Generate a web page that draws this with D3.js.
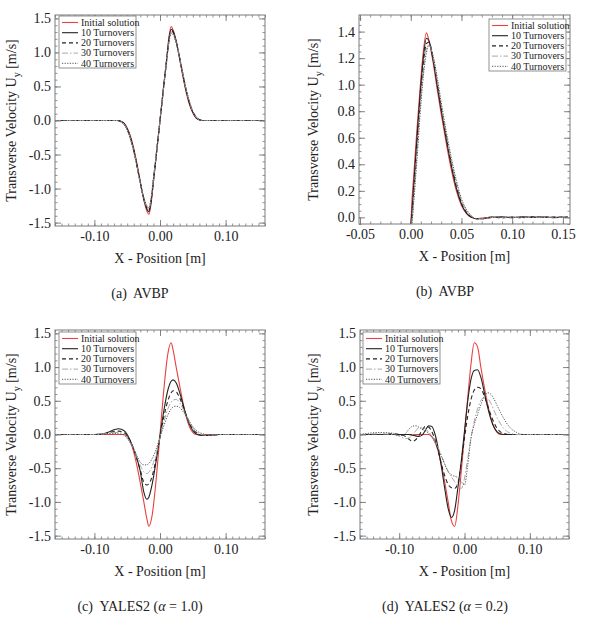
<!DOCTYPE html>
<html>
<head>
<meta charset="utf-8">
<script src="https://cdn.jsdelivr.net/npm/d3@7"></script>
<style>
  body { margin: 0; background: #fff; }
  svg { display: block; }
</style>
</head>
<body>
<div id="chart"></div>
<script>
// legend labels
const seriesNames = ['Initial solution', '10 Turnovers', '20 Turnovers', '30 Turnovers', '40 Turnovers'];

// (a) AVBP
const xA = [-0.16, -0.07, -0.065, -0.06, -0.055, -0.05, -0.045, -0.04, -0.035, -0.03, -0.025, -0.02, -0.017, -0.014, -0.01, -0.005, 0,
  0.005, 0.01, 0.014, 0.017, 0.02, 0.025, 0.03, 0.035, 0.04, 0.045, 0.05, 0.055, 0.06, 0.065, 0.07, 0.16];
const aInit = [0, 0, 0, -0.01, -0.04, -0.11, -0.23, -0.41, -0.64, -0.90, -1.15, -1.33, -1.38, -1.25, -0.90, -0.45, 0,
  0.45, 0.90, 1.25, 1.38, 1.33, 1.15, 0.90, 0.64, 0.41, 0.23, 0.11, 0.04, 0.01, 0, 0, 0];
const a10 = [0, 0, 0, -0.01, -0.04, -0.12, -0.25, -0.43, -0.66, -0.91, -1.14, -1.30, -1.34, -1.22, -0.89, -0.45, 0,
  0.45, 0.88, 1.22, 1.34, 1.31, 1.15, 0.91, 0.66, 0.43, 0.25, 0.12, 0.04, 0.01, 0, 0, 0];
const a20 = [0, 0, 0, -0.01, -0.05, -0.13, -0.26, -0.44, -0.67, -0.92, -1.14, -1.28, -1.32, -1.20, -0.87, -0.44, 0,
  0.44, 0.87, 1.20, 1.32, 1.29, 1.14, 0.92, 0.67, 0.44, 0.26, 0.13, 0.05, 0.01, 0, 0, 0];
const a30 = [0, 0, 0, -0.01, -0.05, -0.13, -0.27, -0.45, -0.68, -0.92, -1.13, -1.27, -1.30, -1.18, -0.86, -0.43, 0,
  0.43, 0.86, 1.18, 1.30, 1.28, 1.13, 0.92, 0.68, 0.45, 0.27, 0.13, 0.05, 0.01, 0, 0, 0];
const a40 = [0, 0, 0, -0.02, -0.06, -0.14, -0.28, -0.46, -0.69, -0.92, -1.12, -1.25, -1.28, -1.16, -0.85, -0.43, 0,
  0.43, 0.85, 1.16, 1.28, 1.26, 1.12, 0.92, 0.69, 0.46, 0.28, 0.14, 0.06, 0.02, 0, 0, 0];

// (b) AVBP, single pulse
const xB = [0, 0.001, 0.003, 0.006, 0.009, 0.012, 0.0155, 0.018, 0.022, 0.026, 0.03, 0.035, 0.04, 0.045, 0.05, 0.055,
  0.06, 0.065, 0.07, 0.08, 0.09, 0.1, 0.11, 0.12, 0.13, 0.14, 0.155];
const bInit = [-0.06, 0.10, 0.32, 0.65, 0.95, 1.22, 1.39, 1.33, 1.17, 0.97, 0.78, 0.56, 0.36, 0.20, 0.09, 0.03,
  0, -0.01, -0.005, 0, 0, 0, 0, 0, 0, 0, 0];
const b10 = [-0.06, 0.02, 0.25, 0.58, 0.90, 1.17, 1.35, 1.33, 1.19, 1.00, 0.81, 0.59, 0.39, 0.22, 0.10, 0.03,
  0, -0.01, -0.01, 0, 0.005, -0.003, 0.004, 0, 0.003, -0.002, 0.003];
const b20 = [-0.06, -0.02, 0.20, 0.52, 0.85, 1.12, 1.31, 1.32, 1.20, 1.02, 0.83, 0.61, 0.41, 0.24, 0.11, 0.04,
  0, -0.01, -0.01, 0.003, -0.004, 0.002, -0.003, 0.004, 0, 0.003, 0];
const b30 = [-0.06, -0.04, 0.15, 0.46, 0.79, 1.06, 1.27, 1.30, 1.21, 1.04, 0.85, 0.63, 0.43, 0.26, 0.13, 0.05,
  0.01, -0.01, -0.01, 0, 0, 0, 0, 0, 0, 0, 0];
const b40 = [-0.06, -0.05, 0.12, 0.42, 0.75, 1.03, 1.24, 1.30, 1.22, 1.06, 0.87, 0.65, 0.45, 0.28, 0.14, 0.06,
  0.01, -0.01, -0.01, 0, 0, 0, 0, 0, 0, 0, 0];

// (c) YALES2 alpha = 1.0
const xC = [-0.16, -0.11, -0.1, -0.09, -0.08, -0.07, -0.063, -0.055, -0.05, -0.045, -0.04, -0.035, -0.03, -0.025, -0.02, -0.017, -0.012, -0.006, 0,
  0.006, 0.012, 0.017, 0.02, 0.025, 0.03, 0.035, 0.04, 0.045, 0.05, 0.055, 0.06, 0.07, 0.08, 0.09, 0.1, 0.11, 0.16];
const cInit = [0, 0, 0, 0, 0, 0, 0, 0, -0.03, -0.11, -0.26, -0.47, -0.72, -0.98, -1.25, -1.36, -1.20, -0.68, 0,
  0.68, 1.20, 1.36, 1.25, 0.98, 0.72, 0.47, 0.26, 0.11, 0.03, 0, 0, 0, 0, 0, 0, 0, 0];
const c10 = [0, 0, 0, 0.005, 0.03, 0.07, 0.085, 0.06, 0, -0.10, -0.22, -0.36, -0.55, -0.84, -0.96, -0.93, -0.74, -0.40, -0.02,
  0.36, 0.66, 0.79, 0.81, 0.76, 0.62, 0.45, 0.28, 0.15, 0.06, 0.01, -0.01, -0.015, -0.01, 0, 0, 0, 0];
const c20 = [0, 0, 0, 0, 0.02, 0.045, 0.05, 0.03, -0.02, -0.10, -0.22, -0.37, -0.53, -0.70, -0.75, -0.73, -0.62, -0.36, -0.03,
  0.27, 0.50, 0.62, 0.65, 0.63, 0.54, 0.42, 0.29, 0.17, 0.08, 0.03, 0, -0.015, -0.01, 0, 0, 0, 0];
const c30 = [0, 0, 0, 0.005, 0.015, 0.03, 0.03, 0.01, -0.04, -0.12, -0.22, -0.34, -0.46, -0.55, -0.58, -0.56, -0.47, -0.29, -0.04,
  0.19, 0.38, 0.48, 0.51, 0.52, 0.47, 0.38, 0.28, 0.18, 0.10, 0.04, 0.01, -0.01, -0.01, 0, 0, 0, 0];
const c40 = [0, 0, 0, 0.005, 0.01, 0.015, 0.01, -0.01, -0.06, -0.13, -0.22, -0.32, -0.41, -0.45, -0.45, -0.43, -0.36, -0.22, -0.04,
  0.13, 0.29, 0.38, 0.41, 0.42, 0.40, 0.34, 0.27, 0.19, 0.12, 0.06, 0.03, 0, -0.01, 0, 0, 0, 0];

// (d) YALES2 alpha = 0.2
const xD = [-0.16, -0.13, -0.11, -0.1, -0.09, -0.085, -0.08, -0.075, -0.07, -0.065, -0.06, -0.055, -0.05, -0.045, -0.04, -0.035, -0.03, -0.025, -0.02, -0.015,
  -0.01, -0.005, 0, 0.005, 0.01, 0.015, 0.02, 0.025, 0.03, 0.035, 0.04, 0.045, 0.05, 0.055, 0.06, 0.07, 0.08, 0.09, 0.1, 0.16];
const dInit = [0, 0, 0, 0, 0, 0, 0, 0, 0, 0, 0, 0, -0.03, -0.11, -0.26, -0.47, -0.72, -1.00, -1.28, -1.36,
  -1.05, -0.55, 0, 0.55, 1.05, 1.36, 1.30, 1.00, 0.72, 0.47, 0.26, 0.11, 0.03, 0, 0, 0, 0, 0, 0, 0];
const d10 = [0, 0, 0, 0, 0, 0, -0.01, -0.02, -0.03, -0.01, 0.06, 0.13, 0.12, 0, -0.22, -0.50, -0.82, -1.10, -1.23, -1.12,
  -0.78, -0.40, 0.05, 0.50, 0.82, 0.95, 0.96, 0.85, 0.64, 0.42, 0.24, 0.11, 0.04, 0.01, 0, 0, 0, 0, 0, 0];
const d20 = [0, 0, 0.01, 0, -0.03, -0.07, -0.10, -0.08, -0.02, 0.06, 0.12, 0.11, 0.04, -0.08, -0.25, -0.45, -0.62, -0.74, -0.79, -0.80,
  -0.72, -0.42, -0.05, 0.28, 0.52, 0.66, 0.70, 0.68, 0.58, 0.44, 0.30, 0.18, 0.09, 0.04, 0.01, 0, 0, 0, 0, 0];
const d30 = [0, 0.01, 0, -0.02, -0.06, -0.05, -0.01, 0.05, 0.10, 0.10, 0.08, 0.04, -0.02, -0.10, -0.20, -0.32, -0.44, -0.55, -0.63, -0.70,
  -0.76, -0.80, -0.65, -0.35, -0.05, 0.20, 0.38, 0.50, 0.55, 0.54, 0.47, 0.36, 0.25, 0.16, 0.09, 0.02, 0, 0, 0, 0];
const d40 = [0, 0.03, 0.02, -0.02, 0.02, 0.08, 0.12, 0.13, 0.11, 0.08, 0.05, 0.02, -0.04, -0.12, -0.22, -0.33, -0.45, -0.55, -0.60, -0.62,
  -0.64, -0.70, -0.75, -0.45, -0.05, 0.15, 0.30, 0.44, 0.56, 0.62, 0.60, 0.53, 0.43, 0.33, 0.24, 0.10, 0.03, 0, 0, 0];

// tick values
const xTicksWide = [-0.10, 0.00, 0.10];
const xTicksB = [-0.05, 0.00, 0.05, 0.10, 0.15];
const yTicksWide = [-1.5, -1.0, -0.5, 0.0, 0.5, 1.0, 1.5];
const yTicksB = [0.0, 0.2, 0.4, 0.6, 0.8, 1.0, 1.2, 1.4];

// line styles, same order as seriesNames
const styles = [
  { color: '#e8413e', dash: null, width: 1.1 },
  { color: '#222', dash: null, width: 1.1 },
  { color: '#222', dash: '4,3', width: 1.1 },
  { color: '#a8a8a8', dash: '6,2,1.5,2', width: 1 },
  { color: '#555', dash: '1.2,1.4', width: 1 }
];

const loc = d3.formatLocale({ decimal: '.', thousands: ',', grouping: [3], currency: ['', ''], minus: '-' });
const fmt2 = loc.format('.2f');
const fmt1 = loc.format('.1f');

const panels = [
  { box: [55, 15, 265, 226], xd: [-0.16, 0.16], yd: [-1.55, 1.55], xt: xTicksWide, yt: yTicksWide, xm: 0.01, ym: 0.1,
    xs: xA, ys: [aInit, a10, a20, a30, a40], leg: [59, 16], ytx: 16, cap: ['(a)  AVBP'], capX: 140 },
  { box: [359, 15, 570, 224], xd: [-0.051, 0.157], yd: [-0.05, 1.525], xt: xTicksB, yt: yTicksB, xm: 0.01, ym: 0.05,
    xs: xB, ys: [bInit, b10, b20, b30, b40], leg: [489, 19], ytx: 318, cap: ['(b)  AVBP'], capX: 445 },
  { box: [55, 330, 265, 539], xd: [-0.16, 0.16], yd: [-1.55, 1.55], xt: xTicksWide, yt: yTicksWide, xm: 0.01, ym: 0.1,
    xs: xC, ys: [cInit, c10, c20, c30, c40], leg: [59, 332], ytx: 16, cap: ['(c)  YALES2 (', 'α', ' = 1.0)'], capX: 140 },
  { box: [360, 330, 569, 539], xd: [-0.16, 0.16], yd: [-1.55, 1.55], xt: xTicksWide, yt: yTicksWide, xm: 0.01, ym: 0.1,
    xs: xD, ys: [dInit, d10, d20, d30, d40], leg: [363, 332], ytx: 318, cap: ['(d)  YALES2 (', 'α', ' = 0.2)'], capX: 445 }
];

const svg = d3.select('#chart').append('svg')
  .attr('width', 594)
  .attr('height', 618)
  .style('font-family', '"Liberation Serif", "Times New Roman", serif');

function minorTicks(dom, step) {
  const out = [];
  const start = Math.ceil(dom[0] / step - 1e-9);
  const end = Math.floor(dom[1] / step + 1e-9);
  for (let i = start; i <= end; i++) out.push(+(i * step).toFixed(4));
  return out;
}

panels.forEach((p, pi) => {
  const [x0, y0, x1, y1] = p.box;
  const x = d3.scaleLinear().domain(p.xd).range([x0, x1]);
  const y = d3.scaleLinear().domain(p.yd).range([y1, y0]);
  const g = svg.append('g');

  // clip
  const cid = 'clip' + pi;
  svg.append('clipPath').attr('id', cid)
    .append('rect').attr('x', x0).attr('y', y0).attr('width', x1 - x0).attr('height', y1 - y0);

  // curves, initial solution under the others
  const line = d3.line().x(d => x(d[0])).y(d => y(d[1])).curve(d3.curveMonotoneX);
  p.ys.forEach((vals, si) => {
    const pts = p.xs.map((xv, i) => [xv, vals[i]]);
    const st = styles[si];
    g.append('path')
      .attr('clip-path', `url(#${cid})`)
      .attr('d', line(pts))
      .attr('fill', 'none')
      .attr('stroke', st.color)
      .attr('stroke-width', st.width)
      .attr('stroke-dasharray', st.dash);
  });

  // axes: ticks point inward on all four sides
  const tickCol = '#777';
  const xMin = minorTicks(p.xd, p.xm);
  const yMin = minorTicks(p.yd, p.ym);
  const axes = [
    [d3.axisBottom(x), `translate(0,${y1})`, p.xt, xMin, true],
    [d3.axisTop(x), `translate(0,${y0})`, p.xt, xMin, false],
    [d3.axisLeft(y), `translate(${x0},0)`, p.yt, yMin, true],
    [d3.axisRight(y), `translate(${x1},0)`, p.yt, yMin, false]
  ];
  axes.forEach(([ax, tr, major, minor, labels], ai) => {
    const isX = ai < 2;
    g.append('g').attr('transform', tr)
      .call(ax.tickValues(minor).tickSize(-2.5).tickFormat(''))
      .call(s => s.select('.domain').remove())
      .call(s => s.selectAll('line').attr('stroke', tickCol).attr('stroke-width', 0.8));
    const mg = g.append('g').attr('transform', tr)
      .call(ax.tickValues(major).tickSize(-6).tickPadding(isX ? 5 : 4)
        .tickFormat(labels ? (isX ? fmt2 : fmt1) : ''))
      .call(s => s.select('.domain').remove())
      .call(s => s.selectAll('line').attr('stroke', tickCol).attr('stroke-width', 0.9));
    mg.selectAll('text').attr('fill', '#222').style('font-size', '14px')
      .style('font-family', '"Liberation Serif", serif');
  });

  g.append('rect')
    .attr('x', x0).attr('y', y0).attr('width', x1 - x0).attr('height', y1 - y0)
    .attr('fill', 'none').attr('stroke', '#7a7a7a').attr('stroke-width', 1);

  // legend
  const [lx, ly] = p.leg;
  const lg = g.append('g').attr('transform', `translate(${lx},${ly})`);
  lg.append('rect').attr('width', 77).attr('height', 52)
    .attr('fill', '#fff').attr('stroke', '#777').attr('stroke-width', 0.8);
  seriesNames.forEach((name, i) => {
    const ry = 6.5 + i * 10.2;
    const st = styles[i];
    lg.append('line')
      .attr('x1', 3).attr('x2', 19).attr('y1', ry).attr('y2', ry)
      .attr('stroke', st.color).attr('stroke-width', st.width)
      .attr('stroke-dasharray', st.dash);
    lg.append('text')
      .attr('x', 22).attr('y', ry + 3.3)
      .attr('fill', '#222')
      .style('font-size', '10px')
      .text(name);
  });

  // axis titles
  svg.append('text')
    .attr('x', (x0 + x1) / 2).attr('y', y1 + 37)
    .attr('text-anchor', 'middle').attr('fill', '#222')
    .style('font-size', '14px')
    .text('X - Position [m]');

  const yt = svg.append('text')
    .attr('transform', `translate(${p.ytx},${(y0 + y1) / 2}) rotate(-90)`)
    .attr('text-anchor', 'middle').attr('fill', '#222')
    .style('font-size', '14px');
  yt.append('tspan').text('Transverse Velocity U');
  yt.append('tspan').attr('dy', 4).style('font-size', '10px').text('y');
  yt.append('tspan').attr('dy', -4).text(' [m/s]');

  // caption
  const ct = svg.append('text')
    .attr('x', p.capX).attr('y', y1 + 72)
    .attr('text-anchor', 'middle').attr('fill', '#222')
    .style('font-size', '14px')
    .style('white-space', 'pre');
  ct.append('tspan').text(p.cap[0]);
  if (p.cap.length > 1) {
    ct.append('tspan').style('font-style', 'italic').text(p.cap[1]);
    ct.append('tspan').text(p.cap[2]);
  }
});
</script>
</body>
</html>
